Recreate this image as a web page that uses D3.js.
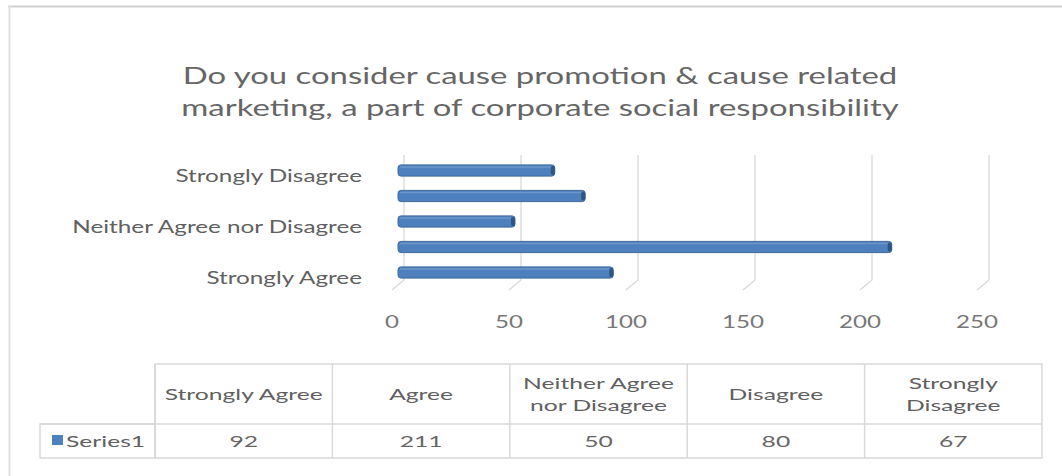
<!DOCTYPE html>
<html>
<head>
<meta charset="utf-8">
<script src="https://cdn.jsdelivr.net/npm/d3@7"></script>
<style>
  body { margin: 0; background: #fff; }
  svg { display: block; font-family: Lato, "Open Sans", sans-serif; }
</style>
</head>
<body>
<div id="chart"></div>
<script>
// data
var categories = ["Strongly Agree", "Agree", "Neither Agree nor Disagree", "Disagree", "Strongly Disagree"];
var values = [92, 211, 50, 80, 67];
var xTicks = [0, 50, 100, 150, 200, 250];
var axisLabels = ["Strongly Agree", "Neither Agree nor Disagree", "Strongly Disagree"];
var headerLines = [["Strongly Agree"], ["Agree"], ["Neither Agree", "nor Disagree"], ["Disagree"], ["Strongly", "Disagree"]];
var seriesName = "Series1";
var titleLines = ["Do you consider cause promotion & cause related",
                  "marketing, a part of corporate social responsibility"];

var W = 1062, H = 476;
var barColor = "#4d80bd", textColor = "#606060";

var svg = d3.select("#chart").append("svg")
    .attr("width", W)
    .attr("height", H);

// outer frame (only top and left edge visible)
svg.append("line").attr("x1", 8).attr("x2", W).attr("y1", 6.5).attr("y2", 6.5)
    .attr("stroke", "#cfcfcf").attr("stroke-width", 2);
svg.append("line").attr("x1", 9.5).attr("x2", 9.5).attr("y1", 6).attr("y2", H)
    .attr("stroke", "#e0e0e0").attr("stroke-width", 2);

// stretched text helper: picture is wider than normal glyphs
function stretchText(g, sample, size, target) {
    var t = g.append("text").attr("font-size", size).text(sample);
    var w = t.node().getComputedTextLength();
    t.remove();
    return target / w;
}
function addText(g, x, y, str, size, sx, anchor, fill) {
    return g.append("text")
        .attr("transform", "translate(" + x + "," + y + ") scale(" + sx + ",1)")
        .attr("font-size", size)
        .attr("text-anchor", anchor)
        .attr("fill", fill || textColor)
        .text(str);
}

// title
var sxTitle = stretchText(svg, titleLines[0], 24, 715);
titleLines.forEach(function(l, i) {
    addText(svg, 540, 84 + i * 32, l, 24, sxTitle, "middle", "#666");
});

// scales
var x = d3.scaleLinear().domain([0, 250]).range([392, 977]);
var y = d3.scaleBand().domain(categories).range([285.25, 157.75]).paddingInner(0.56).paddingOuter(0.28);

// 3D style gridlines: back wall vertical + floor diagonal
var depthX = 12, depthY = 10;
var grid = svg.append("g").attr("class", "grid");
xTicks.forEach(function(v) {
    grid.append("path")
        .attr("d", "M" + (x(v) + depthX) + ",155 L" + (x(v) + depthX) + ",280 L" + x(v) + "," + (280 + depthY))
        .attr("fill", "none")
        .attr("stroke", "#d9d9d9")
        .attr("stroke-width", 1.3);
});

// bars
var bars = svg.append("g").attr("class", "bars");
categories.forEach(function(c, i) {
    var x0 = x(0) + 6, x1 = x(values[i]) + 6;
    bars.append("rect")
        .attr("x", x0).attr("y", y(c))
        .attr("width", x1 - x0).attr("height", y.bandwidth())
        .attr("rx", 3)
        .attr("fill", barColor)
        .attr("stroke", "#3f6a9e")
        .attr("stroke-width", 1);
    bars.append("rect")
        .attr("x", x1 - 4).attr("y", y(c) + 1)
        .attr("width", 4).attr("height", y.bandwidth() - 2)
        .attr("rx", 2)
        .attr("fill", "#2f5584");
    bars.append("line")
        .attr("x1", x0 + 2).attr("x2", x1 - 4)
        .attr("y1", y(c) + 2).attr("y2", y(c) + 2)
        .attr("stroke", "#6d97cc").attr("stroke-width", 1.5);
});

// category labels (every other one)
var sxLab = stretchText(svg, "Neither Agree nor Disagree", 17, 290);
axisLabels.forEach(function(c) {
    addText(svg, 362, y(c) + y.bandwidth() / 2 + 11, c, 17, sxLab, "end");
});

// x tick labels
var sxTick = stretchText(svg, "100", 17, 42);
xTicks.forEach(function(v) {
    addText(svg, x(v), 328, String(v), 17, sxTick, "middle", "#777");
});

// data table
var col = d3.scaleBand().domain(categories).range([155, 1042]);
var tTop = 364, tMid = 424, tBot = 458, tLeft = 40;
var table = svg.append("g").attr("class", "table").attr("stroke", "#d9d9d9").attr("stroke-width", 1.5);
table.append("rect").attr("x", col.range()[0]).attr("y", tTop)
    .attr("width", col.range()[1] - col.range()[0]).attr("height", tBot - tTop).attr("fill", "none");
table.append("rect").attr("x", tLeft).attr("y", tMid)
    .attr("width", col.range()[0] - tLeft).attr("height", tBot - tMid).attr("fill", "none");
table.append("line").attr("x1", tLeft).attr("x2", col.range()[1]).attr("y1", tMid).attr("y2", tMid);
categories.forEach(function(c) {
    table.append("line").attr("x1", col(c)).attr("x2", col(c)).attr("y1", tTop).attr("y2", tBot);
});

var sxTab = stretchText(svg, "Strongly Agree", 16, 158);
categories.forEach(function(c, i) {
    var cx = col(c) + col.bandwidth() / 2;
    var lines = headerLines[i];
    lines.forEach(function(l, j) {
        var yy = lines.length == 1 ? 400 : 389 + j * 22;
        addText(svg, cx, yy, l, 16, sxTab, "middle");
    });
    addText(svg, cx, 447, String(values[i]), 16, sxTab, "middle", "#666");
});

// legend key + series name
svg.append("rect").attr("x", 52).attr("y", 435).attr("width", 11).attr("height", 10).attr("fill", barColor);
addText(svg, 66, 447, seriesName, 16, sxTab, "start");
</script>
</body>
</html>
